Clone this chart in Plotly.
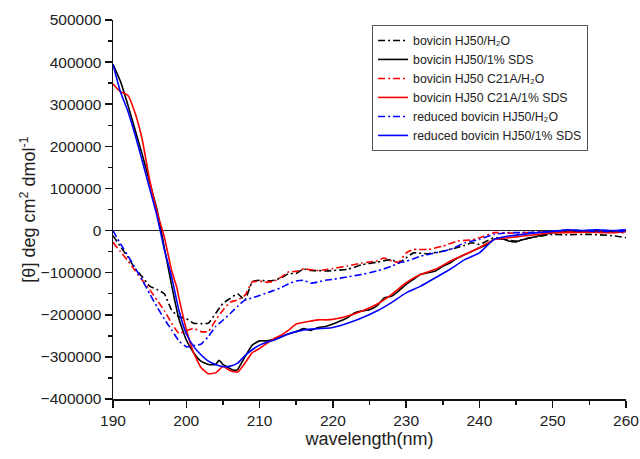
import plotly.graph_objects as go

# ---------------- data ----------------
wl_bov_h2o = [190,191,192,193,194,195,196,197,198,199,200,201,202,203,204,205,206,207,208,209,210,211,212,213,214,215,216,217,218,219,220,222,224,226,228,229,230,231,233,235,237,238,239,240,241,242,243,245,247,250,252,255,258,260]
bov_h2o = [-12000,-38000,-62000,-90000,-110000,-132000,-140000,-150000,-189000,-205000,-209000,-220000,-221000,-220000,-197000,-173000,-161000,-150000,-165000,-122000,-118000,-120000,-118000,-112000,-102000,-102000,-91000,-95000,-95000,-96000,-95000,-92000,-81000,-75000,-69000,-77000,-65000,-53000,-55000,-49000,-40000,-35000,-29000,-33000,-25000,-17000,-20000,-25000,-17000,-9000,-10000,-9000,-12000,-17000]

wl_bov_sds = [190,191,192,193,194,195,196,197,198,199,200,201,202,203,204,204.5,205,206,206.5,207,208,209,210,211,212,213,214,215,216,217,218,219,220,221,222,223,224,225,226,227,228,229,230,231,232,233,234,235,236,237,238,239,240,241,242,243,244,245,246,248,250,252,254,256,258,260]
bov_sds = [395000,355000,300000,240000,180000,115000,50000,-40000,-130000,-210000,-260000,-290000,-310000,-318000,-318000,-308000,-318000,-328000,-332000,-330000,-300000,-272000,-262000,-262000,-258000,-252000,-245000,-240000,-233000,-237000,-230000,-228000,-222000,-215000,-207000,-195000,-191000,-188000,-179000,-160000,-156000,-143000,-128000,-116000,-104000,-100000,-96000,-85000,-77000,-65000,-57000,-49000,-41000,-33000,-21000,-19000,-25000,-27000,-21000,-13000,-5000,-3000,-2000,-2000,-3000,-2000]

wl_c21a_h2o = [190,191,192,193,194,195,196,197,198,199,200,201,202,203,204,205,206,207,208,209,210,211,212,213,214,215,216,217,218,219,220,222,224,226,227,228,229,230,231,233,235,237,239,240,242,244,246,250,255,260]
c21a_h2o = [-28000,-50000,-71000,-95000,-118000,-140000,-165000,-190000,-220000,-244000,-238000,-232000,-240000,-240000,-213000,-189000,-170000,-165000,-154000,-122000,-120000,-123000,-120000,-110000,-98000,-97000,-91000,-93000,-95000,-93000,-90000,-84000,-77000,-72000,-65000,-72000,-75000,-53000,-45000,-45000,-37000,-25000,-22000,-17000,-5000,-6000,-5000,-3000,-4000,-5000]

wl_c21a_sds = [190,191,192,193,194,195,196,197,198,198.7,199,200,201,202,203,204,205,206,207,208,209,210,211,212,213,214,215,216,217,218,219,220,222,224,226,228,230,232,234,236,238,240,242,244,246,248,250,252,255,258,260]
c21a_sds = [348000,330000,322000,280000,215000,120000,45000,-15000,-95000,-135000,-160000,-235000,-290000,-325000,-340000,-338000,-323000,-333000,-336000,-315000,-290000,-280000,-268000,-256000,-248000,-236000,-222000,-218000,-215000,-212000,-212000,-211000,-203000,-191000,-175000,-152000,-124000,-104000,-92000,-73000,-57000,-41000,-21000,-17000,-13000,-9000,-5000,-5000,-4000,-5000,-2000]

wl_red_h2o = [190,191,192,193,194,195,196,197,198,199,200,201,202,203,204,205,206,207,208,209,210,211,212,213,214,215,216,217,218,219,220,222,224,226,228,229,230,232,234,236,238,240,242,244,246,250,252,256,260]
red_h2o = [0,-31000,-59000,-88000,-118000,-150000,-181000,-210000,-236000,-262000,-276000,-273000,-270000,-252000,-228000,-213000,-197000,-180000,-165000,-160000,-154000,-148000,-142000,-135000,-126000,-120000,-118000,-125000,-122000,-118000,-116000,-110000,-104000,-96000,-85000,-77000,-73000,-61000,-53000,-45000,-29000,-21000,-9000,-5000,-5000,-2000,1000,-2000,-2000]

wl_red_sds = [190,191,192,193,194,195,196,197,198,199,200,201,202,203,204,205,206,207,208,209,210,211,212,213,214,215,216,217,218,219,220,222,224,226,228,230,232,234,236,238,240,242,244,246,248,250,252,254,256,258,260]
red_sds = [395000,330000,285000,228000,165000,100000,35000,-45000,-110000,-190000,-245000,-275000,-295000,-310000,-318000,-323000,-322000,-315000,-297000,-283000,-272000,-265000,-260000,-252000,-245000,-240000,-236000,-234000,-233000,-232000,-230000,-220000,-207000,-191000,-171000,-148000,-132000,-112000,-92000,-69000,-53000,-21000,-13000,-9000,-5000,-2000,2000,0,2000,0,2000]

series = [
    ("bovicin HJ50/H₂O", wl_bov_h2o, bov_h2o, "#000000", "dd"),
    ("bovicin HJ50/1% SDS", wl_bov_sds, bov_sds, "#000000", "solid"),
    ("bovicin HJ50 C21A/H₂O", wl_c21a_h2o, c21a_h2o, "#ff0000", "dd"),
    ("bovicin HJ50 C21A/1% SDS", wl_c21a_sds, c21a_sds, "#ff0000", "solid"),
    ("reduced bovicin HJ50/H₂O", wl_red_h2o, red_h2o, "#0000ff", "dd"),
    ("reduced bovicin HJ50/1% SDS", wl_red_sds, red_sds, "#0000ff", "solid"),
]

FONT = "Liberation Sans, Arial, sans-serif"

fig = go.Figure()
for name, x, y, col, sty in series:
    fig.add_trace(go.Scatter(
        x=x, y=y, mode="lines", name=name,
        line=dict(color=col, width=1.6,
                  dash="7px,3px,2px,3px" if sty == "dd" else "solid",
                  shape="spline", smoothing=0.4),
    ))

fig.update_layout(
    width=640, height=459,
    margin=dict(l=113, r=14, t=20, b=60),
    paper_bgcolor="white", plot_bgcolor="white",
    font=dict(family=FONT, color="#222"),
    showlegend=True,
    legend=dict(
        x=0.505, y=0.987, xanchor="left", yanchor="top",
        bgcolor="white", bordercolor="#555", borderwidth=1,
        font=dict(size=12.3, family=FONT, color="#222"),
        tracegroupgap=0, itemwidth=30,
        entrywidth=235, entrywidthmode="pixels",
    ),
)

fig.update_xaxes(
    range=[190, 260], tickvals=[190, 200, 210, 220, 230, 240, 250, 260],
    automargin=False,
    showline=True, linecolor="#111", linewidth=1.5, mirror=False,
    ticks="outside", ticklen=7, tickwidth=1.5, tickcolor="#111",
    minor=dict(dtick=5, ticks="outside", ticklen=4, tickwidth=1.5, tickcolor="#111", showgrid=False),
    showgrid=False, zeroline=False,
    tickfont=dict(size=15.5, family=FONT, color="#222"),
    title=dict(text="wavelength(nm)", font=dict(size=18, family=FONT, color="#222"), standoff=4),
)
fig.update_yaxes(
    range=[-400000, 500000], dtick=100000, tickformat="d",
    automargin=False,
    showline=True, linecolor="#111", linewidth=1.5, mirror=False,
    ticks="outside", ticklen=7, tickwidth=1.5, tickcolor="#111",
    minor=dict(dtick=50000, ticks="outside", ticklen=4, tickwidth=1.5, tickcolor="#111", showgrid=False),
    showgrid=False, zeroline=True, zerolinecolor="#222", zerolinewidth=1.2,
    tickfont=dict(size=15.5, family=FONT, color="#222"),
    title=dict(text="[θ] deg cm<sup>2</sup> dmol<sup>-1</sup>", font=dict(size=18, family=FONT, color="#222"), standoff=0),
)

# remove the page's default 8px body margin so the 640x459 figure fills the window
fig.write_html(
    "out.html",
    config={"displayModeBar": False, "staticPlot": True},
    post_script="document.body.style.margin='0px';document.body.style.overflow='hidden';",
)
